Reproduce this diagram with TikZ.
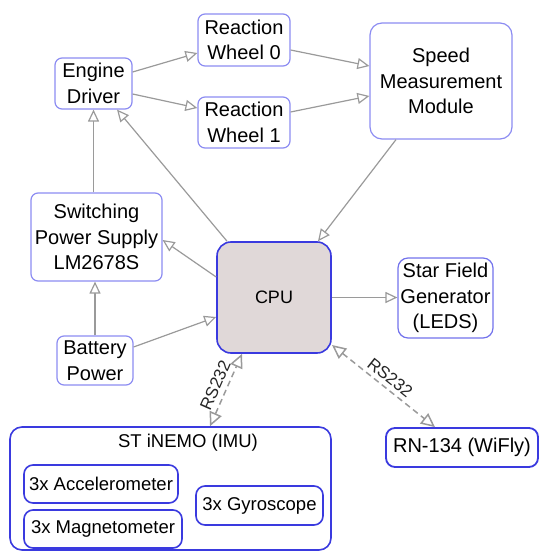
\documentclass[tikz,border=0pt]{standalone}
\usepackage{fontspec}
\setmainfont{Liberation Sans}
\usetikzlibrary{arrows.meta,calc}
\definecolor{lightblue}{HTML}{8C8CF2}
\definecolor{strongblue}{HTML}{3A3ADF}
\definecolor{arrowgray}{HTML}{9A9A9A}
\definecolor{cpufill}{HTML}{E0D8D8}
\tikzset{
  box/.style={draw=lightblue, line width=1.2pt, rounded corners=7pt, fill=white, align=center,
    inner sep=0pt, font=\fontsize{20}{25.5}\selectfont},
  sbox/.style={draw=strongblue, line width=1.6pt, rounded corners=9pt, fill=white, align=center,
    inner sep=0pt, font=\fontsize{18.5}{23}\selectfont},
  conn/.style={draw=arrowgray, line width=1.2pt, -{Triangle[open, length=12pt, width=11pt, fill=white]}},
  serial/.style={draw=arrowgray, line width=1.5pt, dash pattern=on 6pt off 4pt,
    {Triangle[open, length=14pt, width=13pt, fill=white]}-{Triangle[open, length=14pt, width=13pt, fill=white]}},
  lbl/.style={font=\fontsize{17}{20}\selectfont, text=black!85, inner sep=1pt}
}
\begin{document}
\begin{tikzpicture}[x=1pt,y=-1pt]
\useasboundingbox (0,0) rectangle (539,551);
% nodes
\node[box, minimum width=77pt, minimum height=51pt] (eng) at (93.5,83.5) {Engine\\Driver};
\node[box, minimum width=92pt, minimum height=52pt] (rw0) at (244,40) {Reaction\\Wheel 0};
\node[box, minimum width=92pt, minimum height=51pt] (rw1) at (244,122.5) {Reaction\\Wheel 1};
\node[box, rounded corners=12pt, minimum width=142pt, minimum height=116pt] (smm) at (441,81) {Speed\\Measurement\\Module};
\node[box, minimum width=131pt, minimum height=88pt] (sps) at (96.5,237) {Switching\\Power Supply\\LM2678S};
\node[box, draw=strongblue, line width=1.6pt, fill=cpufill, rounded corners=14pt, minimum width=114pt, minimum height=111pt,
  font=\fontsize{18}{22}\selectfont] (cpu) at (274,297.5) {CPU};
\node[box, draw=lightblue!70!strongblue, rounded corners=10pt, minimum width=95pt, minimum height=80pt] (star) at (445.5,298) {Star Field\\Generator\\(LEDS)};
\node[box, minimum width=76pt, minimum height=49pt] (bat) at (95,360.5) {Battery\\Power};
\node[sbox, rounded corners=12pt, minimum width=321pt, minimum height=123pt] (imu) at (170.5,488.5) {};
\node[font=\fontsize{18.5}{23}\selectfont, inner sep=0pt] (imutitle) at (188,443) {ST iNEMO (IMU)};
\node[sbox, minimum width=154pt, minimum height=38pt] (acc) at (101,484) {3x Accelerometer};
\node[sbox, minimum width=158pt, minimum height=38pt] (mag) at (103,529) {3x Magnetometer};
\node[sbox, minimum width=127pt, minimum height=39pt] (gyro) at (259.5,505.5) {3x Gyroscope};
\node[sbox, line width=1.8pt, minimum width=152pt, minimum height=39pt, font=\fontsize{20}{24}\selectfont] (rn) at (462,447.5) {RN-134 (WiFly)};
% connectors
\draw[conn] ([yshift=11.5pt]eng.east) -- ([yshift=-13pt]rw0.west);
\draw[conn] ([yshift=-10.5pt]eng.east) -- ([yshift=14.5pt]rw1.west);
\draw[conn] ([yshift=-10pt]rw0.east) -- ([yshift=15pt]smm.west);
\draw[conn] ([yshift=10.5pt]rw1.east) -- ([yshift=-15pt]smm.west);
\draw[conn] ([xshift=-45pt]smm.south) -- ([xshift=44pt]cpu.north);
\draw[conn] (sps.north -| eng.south) -- (eng.south);
\draw[conn] ([xshift=-47pt]cpu.north) -- ([xshift=23.5pt]eng.south);
\draw[conn] ([yshift=20.5pt]cpu.west) -- ([yshift=-3pt]sps.east);
\draw[conn] (bat.north) -- (bat.north |- sps.south);
\draw[conn] ([yshift=13.5pt]bat.east) -- ([yshift=-19.5pt]cpu.west);
\draw[conn] (cpu.east) -- (cpu.east -| star.west);
\draw[serial] ([xshift=39.5pt]imu.north) -- node[lbl, midway, above=4pt, sloped] {RS232} ([xshift=-32pt]cpu.south);
\coordinate (cpuse) at ([xshift=58pt,yshift=-47.5pt]cpu.center);
\draw[serial] (cpuse) -- node[lbl, midway, above=3pt, sloped] {RS232} ([xshift=-27pt]rn.north);
\end{tikzpicture}
\end{document}
